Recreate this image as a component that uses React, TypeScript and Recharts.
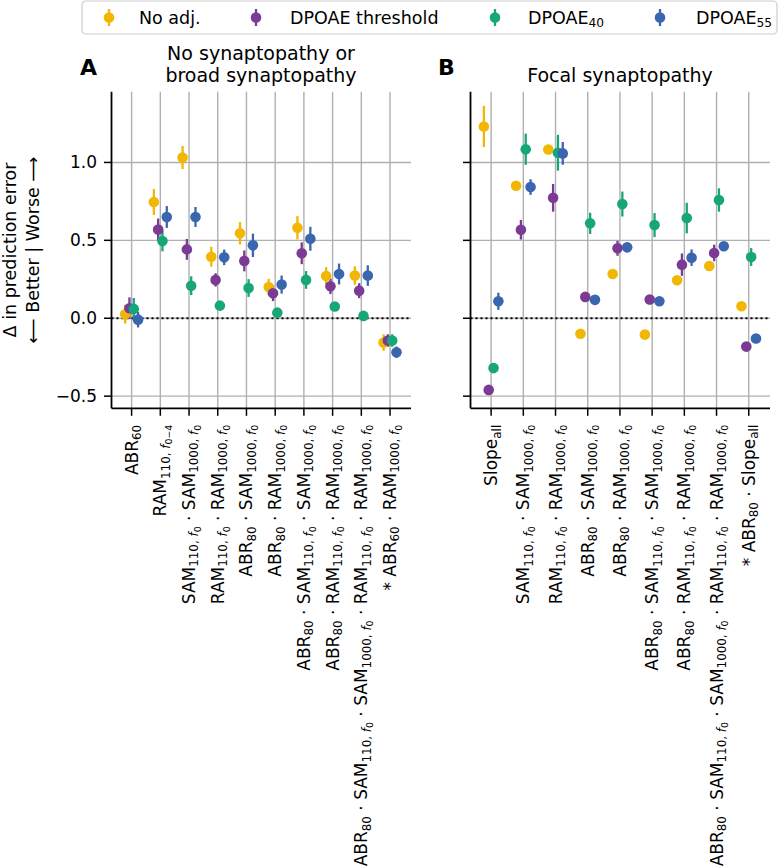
import React from 'react';
import { ScatterChart, Scatter, XAxis, YAxis, CartesianGrid, ErrorBar, ReferenceLine } from 'recharts';

const FONT = 'DejaVu Sans';

const seriesNames = ['No adj.', 'DPOAE threshold', 'DPOAE_{40}', 'DPOAE_{55}'];
const seriesColors = ['#F2B705', '#7B3A93', '#17A57A', '#3A66B0'];
const seriesOffsets = [-0.225, -0.075, 0.075, 0.225];

const catsA = [
  'ABR_{60}',
  'RAM_{110, |f|_{0−4}}',
  'SAM_{110, |f|_{0}} · SAM_{1000, |f|_{0}}',
  'RAM_{110, |f|_{0}} · RAM_{1000, |f|_{0}}',
  'ABR_{80} · SAM_{1000, |f|_{0}}',
  'ABR_{80} · RAM_{1000, |f|_{0}}',
  'ABR_{80} · SAM_{110, |f|_{0}} · SAM_{1000, |f|_{0}}',
  'ABR_{80} · RAM_{110, |f|_{0}} · RAM_{1000, |f|_{0}}',
  'ABR_{80} · SAM_{110, |f|_{0}} · SAM_{1000, |f|_{0}} · RAM_{110, |f|_{0}} · RAM_{1000, |f|_{0}}',
  '* ABR_{60} · RAM_{1000, |f|_{0}}',
];
const noAdjA = [0.026, 0.746, 1.032, 0.395, 0.545, 0.2, 0.581, 0.271, 0.274, -0.156];
const noAdjErrA = [0.06, 0.083, 0.074, 0.064, 0.072, 0.053, 0.075, 0.057, 0.059, 0.053];
const thrA = [0.064, 0.57, 0.442, 0.246, 0.368, 0.16, 0.417, 0.205, 0.177, -0.143];
const thrErrA = [0.07, 0.07, 0.067, 0.043, 0.067, 0.05, 0.07, 0.05, 0.048, 0.04];
const d40A = [0.06, 0.496, 0.209, 0.081, 0.194, 0.036, 0.246, 0.075, 0.015, -0.143];
const d40ErrA = [0.07, 0.067, 0.06, 0.02, 0.057, 0.02, 0.057, 0.02, 0.02, 0.04];
const d55A = [-0.009, 0.65, 0.65, 0.391, 0.468, 0.216, 0.51, 0.284, 0.274, -0.218];
const d55ErrA = [0.05, 0.07, 0.064, 0.05, 0.075, 0.058, 0.077, 0.067, 0.066, 0.037];

const catsB = [
  'Slope_{all}',
  'SAM_{110, |f|_{0}} · SAM_{1000, |f|_{0}}',
  'RAM_{110, |f|_{0}} · RAM_{1000, |f|_{0}}',
  'ABR_{80} · SAM_{1000, |f|_{0}}',
  'ABR_{80} · RAM_{1000, |f|_{0}}',
  'ABR_{80} · SAM_{110, |f|_{0}} · SAM_{1000, |f|_{0}}',
  'ABR_{80} · RAM_{110, |f|_{0}} · RAM_{1000, |f|_{0}}',
  'ABR_{80} · SAM_{110, |f|_{0}} · SAM_{1000, |f|_{0}} · RAM_{110, |f|_{0}} · RAM_{1000, |f|_{0}}',
  '* ABR_{80} · Slope_{all}',
];
const noAdjB = [1.231, 0.85, 1.083, -0.1, 0.284, -0.105, 0.244, 0.335, 0.077];
const noAdjErrB = [0.132, 0.02, 0.03, 0.01, 0.01, 0.01, 0.01, 0.01, 0.01];
const thrB = [-0.46, 0.568, 0.773, 0.137, 0.449, 0.12, 0.344, 0.419, -0.182];
const thrErrB = [0.01, 0.063, 0.089, 0.02, 0.048, 0.03, 0.072, 0.053, 0.01];
const d40B = [-0.32, 1.085, 1.062, 0.609, 0.733, 0.598, 0.643, 0.759, 0.393];
const d40ErrB = [0.03, 0.1, 0.115, 0.068, 0.08, 0.077, 0.098, 0.075, 0.057];
const d55B = [0.109, 0.842, 1.058, 0.118, 0.455, 0.109, 0.389, 0.462, -0.13];
const d55ErrB = [0.055, 0.05, 0.073, 0.01, 0.03, 0.01, 0.053, 0.01, 0.01];

const yTicks = [-0.5, 0, 0.5, 1.0];
const yDomain = [-0.578, 1.454];

type Seg = { t: string; level: number; italic: boolean };

function parseRich(s: string): Seg[] {
  const segs: Seg[] = [];
  let level = 0;
  let italic = false;
  let buf = '';
  const flush = () => {
    if (buf) segs.push({ t: buf, level, italic });
    buf = '';
  };
  for (let i = 0; i < s.length; i++) {
    const c = s[i];
    if (c === '_' && s[i + 1] === '{') {
      flush();
      level++;
      i++;
    } else if (c === '}') {
      flush();
      level--;
    } else if (c === '|') {
      flush();
      italic = !italic;
    } else {
      buf += c;
    }
  }
  flush();
  return segs;
}

const sizeFactor = [1, 0.7, 0.55];
const shiftFactor = [0, 0.2, 0.34];

function richSpans(s: string, base: number) {
  const segs = parseRich(s);
  let prev = 0;
  return segs.map((sg, i) => {
    const sh = shiftFactor[sg.level] * base;
    const dy = sh - prev;
    prev = sh;
    return (
      <tspan
        key={i}
        dy={dy}
        fontSize={base * sizeFactor[sg.level]}
        fontStyle={sg.italic ? 'italic' : 'normal'}
        style={{ whiteSpace: 'pre' }}
      >
        {sg.t}
      </tspan>
    );
  });
}

function makeXTick(labels: string[]) {
  return (props: any) => {
    const { x, y, payload } = props;
    const idx = Math.round(payload.value);
    const label = labels[idx];
    if (label === undefined) return <g />;
    return (
      <g transform={`translate(${x},${y})`}>
        <text
          transform="rotate(-90)"
          x={0}
          y={6}
          textAnchor="end"
          fontSize={17}
          fontFamily={FONT}
          fill="#000"
          style={{ whiteSpace: 'pre' }}
        >
          {richSpans(label, 17)}
        </text>
      </g>
    );
  };
}

const fmtY = (v: number) => (v < 0 ? '−' + Math.abs(v).toFixed(1) : v.toFixed(1));

function buildSeries(vals: number[], errs: number[], s: number) {
  return vals.map((v, i) => ({ x: i + seriesOffsets[s], y: v, err: errs[i] }));
}

const PLOT_TOP = 91.7;
const PLOT_BOTTOM = 408.3;
const X_AXIS_H = 40;

function Panel(props: {
  left: number;
  width: number;
  plotLeft: number;
  yAxisWidth: number;
  marginRight: number;
  cats: string[];
  series: { vals: number[]; errs: number[] }[];
  xDomain: [number, number];
  showYLabels: boolean;
}) {
  const { left, width, plotLeft, yAxisWidth, marginRight, cats, series, xDomain, showYLabels } = props;
  const xTicks = cats.map((_, i) => i);
  return (
    <div style={{ position: 'absolute', left, top: 0 }}>
      <ScatterChart
        width={width}
        height={866}
        margin={{ top: PLOT_TOP, bottom: 866 - PLOT_BOTTOM - X_AXIS_H, left: plotLeft - yAxisWidth, right: marginRight }}
        style={{ overflow: 'visible' }}
      >
        <CartesianGrid stroke="#b0b0b0" strokeWidth={1.4} syncWithTicks />
        <XAxis
          type="number"
          dataKey="x"
          domain={xDomain}
          ticks={xTicks}
          height={X_AXIS_H}
          allowDataOverflow
          interval={0}
          tickSize={7.5}
          tickMargin={9}
          axisLine={{ stroke: '#000', strokeWidth: 1.8 }}
          tickLine={{ stroke: '#000', strokeWidth: 1.5 }}
          tick={makeXTick(cats)}
        />
        <YAxis
          type="number"
          dataKey="y"
          domain={yDomain}
          ticks={yTicks}
          width={yAxisWidth}
          allowDataOverflow
          interval={0}
          tickSize={7.5}
          tickMargin={7}
          axisLine={{ stroke: '#000', strokeWidth: 1.8 }}
          tickLine={{ stroke: '#000', strokeWidth: 1.5 }}
          tickFormatter={showYLabels ? fmtY : () => ''}
          tick={{ fill: '#000', fontSize: 17, fontFamily: FONT }}
        />
        <ReferenceLine y={0} stroke="#000" strokeWidth={2.2} strokeDasharray="2 3" />
        {series.map((sr, s) => (
          <Scatter
            key={s}
            name={seriesNames[s]}
            data={buildSeries(sr.vals, sr.errs, s)}
            fill={seriesColors[s]}
            isAnimationActive={false}
            shape={(p: any) => <circle cx={p.cx} cy={p.cy} r={5.3} fill={seriesColors[s]} />}
          >
            <ErrorBar dataKey="err" direction="y" width={0} stroke={seriesColors[s]} strokeWidth={2.3} />
          </Scatter>
        ))}
      </ScatterChart>
    </div>
  );
}

const legendMarkerX = [109, 256, 495, 660];
const legendTextX = [139, 290, 528, 696];

export default function App() {
  return (
    <div style={{ position: 'absolute', left: 0, top: 0, width: 780, height: 866, background: '#fff', fontFamily: FONT }}>
      <Panel
        left={0}
        width={430}
        plotLeft={111.5}
        yAxisWidth={60}
        marginRight={19}
        cats={catsA}
        xDomain={[-0.7, 9.73]}
        showYLabels={true}
        series={[
          { vals: noAdjA, errs: noAdjErrA },
          { vals: thrA, errs: thrErrA },
          { vals: d40A, errs: d40ErrA },
          { vals: d55A, errs: d55ErrA },
        ]}
      />
      <Panel
        left={430}
        width={350}
        plotLeft={40.5}
        yAxisWidth={30}
        marginRight={10}
        cats={catsB}
        xDomain={[-0.64, 8.66]}
        showYLabels={false}
        series={[
          { vals: noAdjB, errs: noAdjErrB },
          { vals: thrB, errs: thrErrB },
          { vals: d40B, errs: d40ErrB },
          { vals: d55B, errs: d55ErrB },
        ]}
      />
      <svg
        width={780}
        height={866}
        style={{ position: 'absolute', left: 0, top: 0, pointerEvents: 'none' }}
        fontFamily={FONT}
      >
        <rect x={82} y={1} width={695} height={33} rx={4} fill="#fff" stroke="#cccccc" strokeWidth={1.2} />
        {seriesNames.map((n, i) => (
          <g key={i}>
            <line x1={legendMarkerX[i]} x2={legendMarkerX[i]} y1={9} y2={26} stroke={seriesColors[i]} strokeWidth={2.3} />
            <circle cx={legendMarkerX[i]} cy={17.5} r={5.3} fill={seriesColors[i]} />
            <text x={legendTextX[i]} y={23.5} fontSize={17.5} fill="#000" style={{ whiteSpace: 'pre' }}>
              {richSpans(n, 17.5)}
            </text>
          </g>
        ))}
        <text x={80} y={75} fontSize={22} fontWeight="bold" fill="#000">A</text>
        <text x={438} y={75} fontSize={22} fontWeight="bold" fill="#000">B</text>
        <text x={261} y={60} fontSize={19} textAnchor="middle" fill="#000">No synaptopathy or</text>
        <text x={261} y={81.5} fontSize={19} textAnchor="middle" fill="#000">broad synaptopathy</text>
        <text x={620} y={82} fontSize={19} textAnchor="middle" fill="#000">Focal synaptopathy</text>
        <text transform="translate(16,250) rotate(-90)" fontSize={17.5} textAnchor="middle" fill="#000">
          Δ in prediction error
        </text>
        <text transform="translate(39,250) rotate(-90)" fontSize={17.5} textAnchor="middle" fill="#000">
          ⟵ Better | Worse ⟶
        </text>
      </svg>
    </div>
  );
}
